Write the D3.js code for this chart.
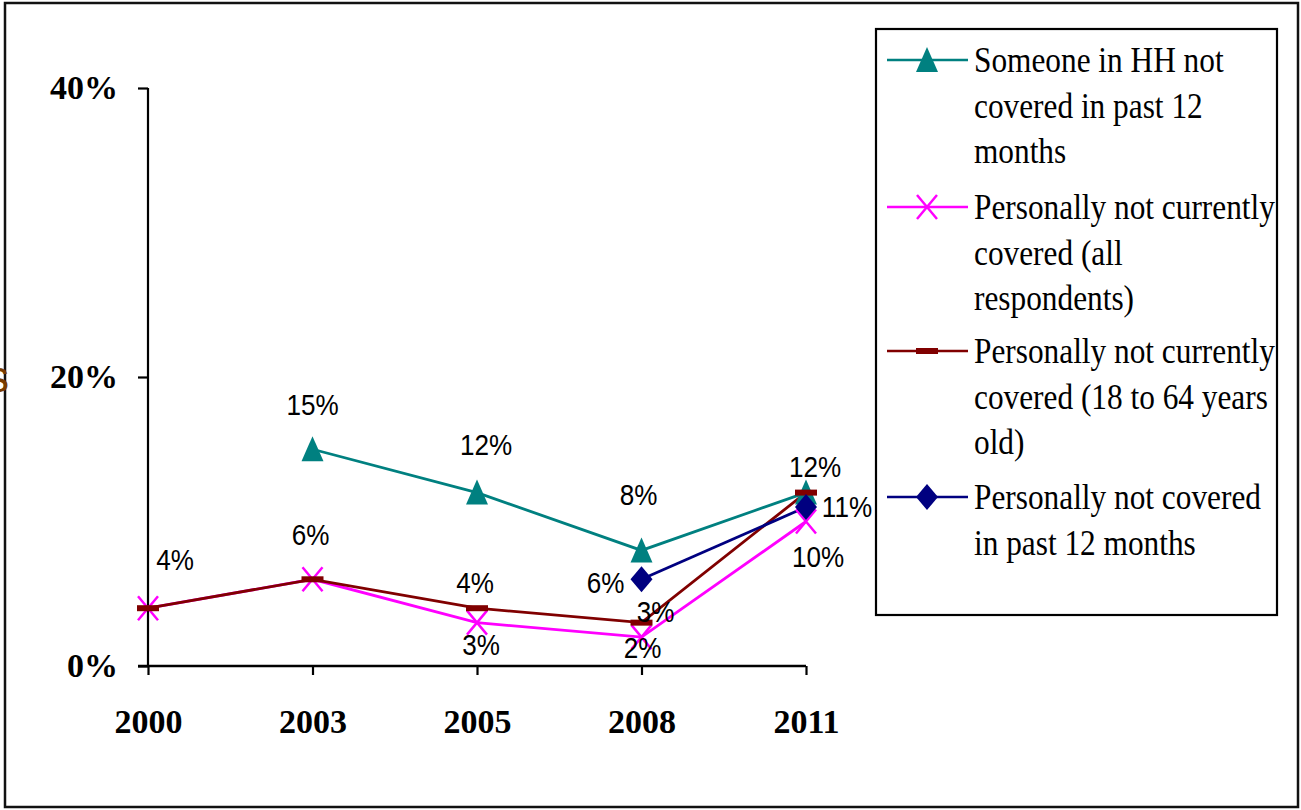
<!DOCTYPE html>
<html><head><meta charset="utf-8">
<script src="https://cdn.jsdelivr.net/npm/d3@7"></script>
<style>body{margin:0;background:#fff}svg{display:block}</style>
</head><body>
<script>
// ---- data ----
const years = ["2000", "2003", "2005", "2008", "2011"];
const yTicks = [0, 20, 40];
const hhNotCovered12m = [null, 15, 12, 8, 12];
const notCurrentlyAll = [4, 6, 3, 2, 10];
const notCurrently1864 = [4, 6, 4, 3, 12];
const notCovered12m = [null, null, null, 6, 11];
const seriesNames = [
  ["Someone in HH not", "covered in past 12", "months"],
  ["Personally not currently", "covered (all", "respondents)"],
  ["Personally not currently", "covered (18 to 64 years", "old)"],
  ["Personally not covered", "in past 12 months"]
];

const W = 1301, H = 810;
const svg = d3.select("body").append("svg").attr("width", W).attr("height", H);

// outer frame
svg.append("rect").attr("x", 5).attr("y", 3).attr("width", 1293).attr("height", 804)
  .attr("fill", "none").attr("stroke", "#111").attr("stroke-width", 2.5);

const x = d3.scalePoint().domain(years).range([148, 806]);
const y = d3.scaleLinear().domain([0, 40]).range([666, 88]);

const series = [
  {vals: hhNotCovered12m, color: "#008080", marker: "tri"},
  {vals: notCurrentlyAll, color: "#FF00FF", marker: "x"},
  {vals: notCurrently1864, color: "#800000", marker: "dash"},
  {vals: notCovered12m, color: "#000080", marker: "diamond"}
];

// axes
const gy = svg.append("g").attr("transform", "translate(148,0)")
  .call(d3.axisLeft(y).tickValues(yTicks).tickSize(10).tickPadding(20).tickFormat(d => d + "%"));
const gx = svg.append("g").attr("transform", "translate(0,666)")
  .call(d3.axisBottom(x).tickSize(9).tickPadding(34));
[gy, gx].forEach(g => {
  g.select(".domain").remove();
  g.selectAll("line").attr("stroke", "#000").attr("stroke-width", 2.2);
  g.selectAll("text").attr("fill", "#000").attr("font-family", "Liberation Serif, Times New Roman, serif")
    .attr("font-weight", "bold").attr("font-size", 34);
});
gy.selectAll("text").attr("dy", "0.32em");
svg.append("line").attr("x1", 148).attr("x2", 148).attr("y1", y(40)).attr("y2", y(0))
  .attr("stroke", "#000").attr("stroke-width", 2.2);
svg.append("line").attr("x1", 138).attr("x2", x("2011")).attr("y1", y(0)).attr("y2", y(0))
  .attr("stroke", "#000").attr("stroke-width", 2.5);

// cut-off axis title fragment (partly outside the frame, as in the source)
svg.append("text").attr("x", 9).attr("y", 392).attr("text-anchor", "end")
  .attr("font-family", "Liberation Sans, Arial, sans-serif").attr("font-size", 44)
  .attr("fill", "#7a3c00").text("s");

function drawMarker(g, type, color) {
  if (type === "tri") g.append("path").attr("d", "M0,-13L11,12L-11,12Z").attr("fill", color);
  else if (type === "x") g.append("path").attr("d", "M-10,-12L10,12M-10,12L10,-12")
    .attr("stroke", color).attr("stroke-width", 2.5).attr("fill", "none");
  else if (type === "dash") g.append("rect").attr("x", -11).attr("y", -3).attr("width", 22).attr("height", 6).attr("fill", color);
  else if (type === "diamond") g.append("path").attr("d", "M0,-13L11,0L0,13L-11,0Z").attr("fill", color);
}

const line = d3.line().defined(d => d.v != null).x(d => x(d.k)).y(d => y(d.v));
series.forEach(s => {
  const pts = years.map((k, i) => ({k, v: s.vals[i]}));
  svg.append("path").datum(pts).attr("d", line).attr("fill", "none")
    .attr("stroke", s.color).attr("stroke-width", 2.8);
});
series.forEach(s => {
  years.forEach((k, i) => {
    if (s.vals[i] == null) return;
    const g = svg.append("g").attr("transform", `translate(${x(k)},${y(s.vals[i])})`);
    drawMarker(g, s.marker, s.color);
  });
});

// data labels: [series index, year index, dx, dy]
const labelPlacement = [
  [2, 0, 27, -48], [2, 1, -2, -44], [0, 1, 0, -44], [0, 2, 9, -48], [2, 2, -2, -25],
  [1, 2, 4, 22], [0, 3, -3, -55], [3, 3, -36, 4], [2, 3, 14, -11], [1, 3, 1, 11],
  [0, 4, 9, -26], [3, 4, 41, 0], [1, 4, 12, 36]
];
labelPlacement.forEach(([si, yi, dx, dy]) => {
  const v = series[si].vals[yi];
  svg.append("text").attr("text-anchor", "middle").attr("dominant-baseline", "central")
    .attr("transform", `translate(${x(years[yi]) + dx},${y(v) + dy}) scale(0.9,1)`)
    .attr("font-family", "Liberation Sans, Arial, sans-serif").attr("font-size", 29)
    .attr("fill", "#000").text(v + "%");
});

// legend
svg.append("rect").attr("x", 876).attr("y", 29).attr("width", 401).attr("height", 586)
  .attr("fill", "#fff").attr("stroke", "#000").attr("stroke-width", 2.2);
const rowY = [60, 207, 351, 497];
series.forEach((s, i) => {
  const yy = rowY[i];
  svg.append("line").attr("x1", 887).attr("x2", 968).attr("y1", yy).attr("y2", yy)
    .attr("stroke", s.color).attr("stroke-width", 2.6);
  drawMarker(svg.append("g").attr("transform", `translate(927,${yy})`), s.marker, s.color);
  seriesNames[i].forEach((t, j) => {
    svg.append("text").attr("transform", `translate(974,${yy + j * 45.5 + 12}) scale(0.87,1)`)
      .attr("font-family", "Liberation Serif, Times New Roman, serif").attr("font-size", 36)
      .attr("fill", "#000").text(t);
  });
});
</script>
</body></html>
